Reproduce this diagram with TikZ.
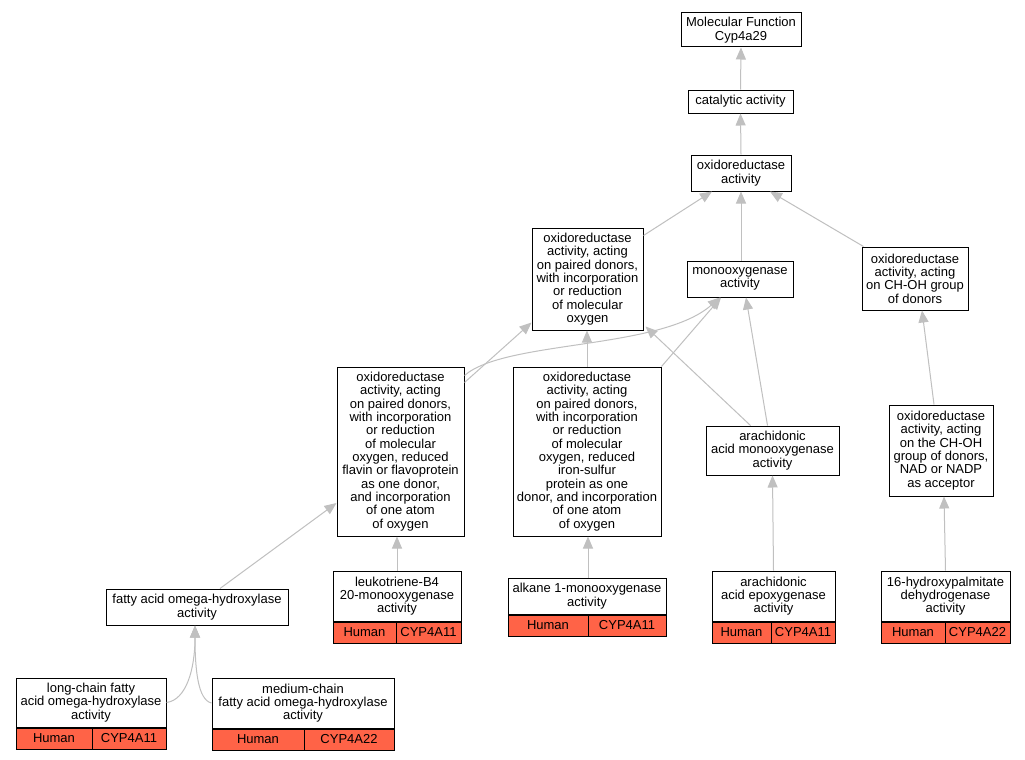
\documentclass[tikz,border=0pt]{standalone}
\usepackage{fontspec}
\setmainfont{Liberation Sans}
\usetikzlibrary{arrows.meta}
\definecolor{edgegray}{HTML}{C0C0C0}
\definecolor{tomatored}{HTML}{FF6347}
\begin{document}
\begin{tikzpicture}[x=1pt,y=-1pt,
  box/.style={draw=black, line width=1pt, fill=white, inner sep=0pt, align=center,
    font=\fontsize{13}{13.33}\selectfont},
  cell/.style={draw=black, line width=1pt, fill=tomatored, inner sep=0pt, align=center,
    minimum height=21pt, font=\fontsize{13}{13.33}\selectfont},
  edge/.style={draw=edgegray, line width=1pt, -{Triangle[length=12pt,width=10pt,fill=edgegray]}}
]
\useasboundingbox (0,0) rectangle (1025,760);
\fill[white] (0,0) rectangle (1025,760);

% top chain
\node[box, minimum width=120pt, minimum height=34pt] (mf) at (741,30) {Molecular Function\\Cyp4a29};
\node[box, minimum width=105pt, minimum height=23pt] (cat) at (740.5,101.5) {catalytic activity};
\node[box, minimum width=100pt, minimum height=36pt] (oxa) at (741,173) {oxidoreductase\\activity};

% second level
\node[box, minimum width=111pt, minimum height=102pt] (oxp) at (587.5,279) {oxidoreductase\\activity, acting\\on paired donors,\\with incorporation\\or reduction\\of molecular\\oxygen};
\node[box, minimum width=106pt, minimum height=36pt] (mono) at (740,279) {monooxygenase\\activity};
\node[box, minimum width=106pt, minimum height=63pt] (choh) at (915,278.5) {oxidoreductase\\activity, acting\\on CH-OH group\\of donors};

% third level
\node[box, minimum width=127pt, minimum height=169pt] (flav) at (400.5,451.5) {oxidoreductase\\activity, acting\\on paired donors,\\with incorporation\\or reduction\\of molecular\\oxygen, reduced\\flavin or flavoprotein\\as one donor,\\and incorporation\\of one atom\\of oxygen};
\node[box, minimum width=148pt, minimum height=169pt] (iron) at (587,451.5) {oxidoreductase\\activity, acting\\on paired donors,\\with incorporation\\or reduction\\of molecular\\oxygen, reduced\\iron-sulfur\\protein as one\\donor, and incorporation\\of one atom\\of oxygen};
\node[box, minimum width=133pt, minimum height=49pt] (arm) at (772.5,450.5) {arachidonic\\acid monooxygenase\\activity};
\node[box, minimum width=104pt, minimum height=91pt] (nad) at (941,450.5) {oxidoreductase\\activity, acting\\on the CH-OH\\group of donors,\\NAD or NADP\\as acceptor};

% fourth level
\node[box, minimum width=182pt, minimum height=36pt] (fat) at (197,607) {fatty acid omega-hydroxylase\\activity};

\node[box, minimum width=128pt, minimum height=50pt] (leuk) at (397,596) {leukotriene-B4\\20-monooxygenase\\activity};
\node[cell, minimum width=63pt, anchor=north west] (leukH) at (leuk.south west) {Human};
\node[cell, minimum width=65pt, anchor=north east] (leukC) at (leuk.south east) {CYP4A11};

\node[box, minimum width=158pt, minimum height=36pt] (alk) at (587,596) {alkane 1-monooxygenase\\activity};
\node[cell, minimum width=80pt, anchor=north west] (alkH) at (alk.south west) {Human};
\node[cell, minimum width=78pt, anchor=north east] (alkC) at (alk.south east) {CYP4A11};

\node[box, minimum width=123pt, minimum height=50pt] (epo) at (773.5,596) {arachidonic\\acid epoxygenase\\activity};
\node[cell, minimum width=59pt, anchor=north west] (epoH) at (epo.south west) {Human};
\node[cell, minimum width=64pt, anchor=north east] (epoC) at (epo.south east) {CYP4A11};

\node[box, minimum width=129pt, minimum height=50pt] (hyd) at (945.5,596) {16-hydroxypalmitate\\dehydrogenase\\activity};
\node[cell, minimum width=64pt, anchor=north west] (hydH) at (hyd.south west) {Human};
\node[cell, minimum width=65pt, anchor=north east] (hydC) at (hyd.south east) {CYP4A22};

% bottom level
\node[box, minimum width=150pt, minimum height=49pt] (lng) at (91,702.5) {long-chain fatty\\acid omega-hydroxylase\\activity};
\node[cell, minimum width=76pt, anchor=north west] (lngH) at (lng.south west) {Human};
\node[cell, minimum width=74pt, anchor=north east] (lngC) at (lng.south east) {CYP4A11};

\node[box, minimum width=182pt, minimum height=50pt] (med) at (303,703) {medium-chain\\fatty acid omega-hydroxylase\\activity};
\node[cell, minimum width=92pt, anchor=north west] (medH) at (med.south west) {Human};
\node[cell, minimum width=90pt, anchor=north east] (medC) at (med.south east) {CYP4A22};

% edges
\draw[edge] (cat.north) -- (mf.south);
\draw[edge] (oxa.north) -- (cat.north |- cat.south);
\draw[edge] ([yshift=-8pt]oxp.north east) -- ([xshift=-29pt]oxa.south);
\draw[edge] (mono.north -| oxa.south) -- (oxa.south);
\draw[edge] ([xshift=2pt]choh.north west) -- ([xshift=29pt]oxa.south);
\draw[edge] ([yshift=-16pt]flav.north east) -- ([yshift=8pt]oxp.south west);
\draw[edge] ([yshift=-9pt]flav.north east) .. controls (505,340) and (660,350) .. ([xshift=-20pt]mono.south);
\draw[edge] (iron.north) -- (iron.north |- oxp.south);
\draw[edge] (iron.north east) -- ([xshift=-19pt]mono.south);
\draw[edge] ([xshift=-22pt]arm.north) -- ([xshift=2pt,yshift=4pt]oxp.south east);
\draw[edge] ([xshift=-5pt]arm.north) -- ([xshift=6pt]mono.south);
\draw[edge] ([xshift=-7pt]nad.north) -- ([xshift=7pt]choh.south);
\draw[edge] ([xshift=23pt]fat.north) -- ([yshift=-51.5pt]flav.west);
\draw[edge] (leuk.north) -- (leuk.north |- flav.south);
\draw[edge] ([xshift=1pt]alk.north) -- ([xshift=1pt]alk.north |- iron.south);
\draw[edge] (epo.north) -- (arm.south);
\draw[edge] (hyd.north) -- ([xshift=3pt]nad.south);
\draw[edge] (lng.east) .. controls (186,700) and (195,670) .. ([xshift=-2pt]fat.south);
\draw[edge] (med.west) .. controls (198,700) and (195,670) .. ([xshift=-2pt]fat.south);
\end{tikzpicture}
\end{document}
